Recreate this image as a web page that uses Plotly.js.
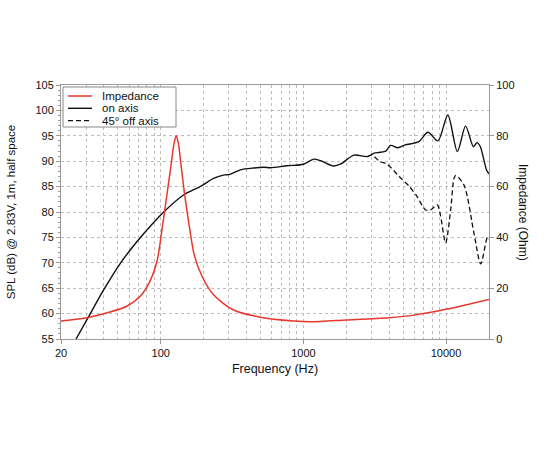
<!DOCTYPE html>
<html>
<head>
<meta charset="utf-8">
<script src="https://cdn.plot.ly/plotly-3.0.1.min.js"></script>
<style>html,body{margin:0;padding:0;background:#fff;}#chart{width:550px;height:450px;}</style>
</head>
<body>
<div id="chart"></div>
<script>
// Impedance (Ohm) vs frequency (Hz)
var impFreq = [20, 31.1, 44.1, 57.8, 71.8, 84.4, 94.5, 102, 110, 118.5, 124, 128.5, 133, 138.5, 147, 159, 172, 195, 234.6, 324, 498, 858, 1120, 2000, 3960, 5940, 10000, 20000];
var impOhm  = [7.1, 8.5, 10.6, 12.9, 16.8, 23, 31, 43, 56, 69, 77, 80, 77, 69, 57, 44, 33, 24.6, 17.4, 11.4, 8.6, 7.1, 6.8, 7.5, 8.4, 9.4, 11.7, 15.6];

// On-axis SPL (dB)
var onFreq = [25.5, 31.1, 39.7, 52.1, 68, 88.9, 110.4, 144.6, 189, 234.6, 280, 306, 362, 526, 588, 768, 1000, 1182, 1320, 1632, 1830, 2260, 2810, 3110, 3440, 3780, 4090, 4600, 5170, 6450, 7460, 8770, 10290, 12000, 13700, 15560, 16500, 17400, 19200, 20000];
var onSpl  = [55, 59.3, 64.6, 69.9, 74.15, 77.9, 80.6, 83.35, 85.0, 86.6, 87.3, 87.4, 88.3, 88.8, 88.7, 89.1, 89.4, 90.4, 90.1, 89.05, 89.45, 91.2, 90.9, 91.55, 91.75, 92.0, 93.1, 92.65, 93.2, 93.85, 95.7, 94.0, 99.1, 91.9, 96.9, 92.85, 93.65, 92.85, 88.3, 87.5];

// 45 deg off-axis SPL (dB)
var offFreq = [2810, 3030, 3440, 3850, 4690, 5500, 6280, 7180, 7780, 8680, 9130, 9930, 10770, 11360, 11700, 13360, 15700, 17500, 19500, 20000];
var offSpl  = [90.9, 91.2, 89.9, 89.45, 87.0, 85.1, 83.0, 80.4, 80.4, 81.4, 79.4, 73.9, 80.4, 86.6, 87.2, 85.3, 75.8, 69.8, 75.0, 74.6];

// Axis ticks
var xTickVals = [20, 100, 1000, 10000];
var xTickText = ["20", "100", "1000", "10000"];
var xMinorVals = [30,40,50,60,70,80,90,200,300,400,500,600,700,800,900,2000,3000,4000,5000,6000,7000,8000,9000];
var splTicks = [55, 60, 65, 70, 75, 80, 85, 90, 95, 100, 105];
var impTicks = [0, 20, 40, 60, 80, 100];

// Legend entries
var legendNames = ['Impedance', 'on axis', '45° off axis'];

var FONT = '"Liberation Sans", Arial, Helvetica, sans-serif';
var AXC = '#9a9a9a';
var GRID = '#bdbdbd';
var RED = '#e8372f';
var BLK = '#111111';
var lineStyles = [
  {color: RED, width: 1.5},
  {color: BLK, width: 1.4},
  {color: BLK, width: 1.3, dash: '5px,3px'}
];

var traces = [
  {x: impFreq, y: impOhm, yaxis: 'y2', type: 'scatter', mode: 'lines', name: legendNames[0],
   line: Object.assign({shape: 'spline', smoothing: 0.8}, lineStyles[0])},
  {x: onFreq, y: onSpl, type: 'scatter', mode: 'lines', name: legendNames[1],
   line: Object.assign({shape: 'spline', smoothing: 0.8}, lineStyles[1])},
  {x: offFreq, y: offSpl, type: 'scatter', mode: 'lines', name: legendNames[2],
   line: Object.assign({shape: 'spline', smoothing: 0.8}, lineStyles[2])}
];

// compact legend drawn as shapes + text (paper coords)
var shapes = [
  {type: 'rect', xref: 'paper', yref: 'paper', x0: 0.0047, x1: 0.2687, y0: 0.8346, y1: 0.9921,
   fillcolor: '#ffffff', line: {color: '#888888', width: 1}, layer: 'above'}
];
var annotations = [];
var rowY = [0.9567, 0.9083, 0.8594];
for (var i = 0; i < legendNames.length; i++) {
  shapes.push({type: 'line', xref: 'paper', yref: 'paper', x0: 0.0164, x1: 0.0724, y0: rowY[i], y1: rowY[i],
               line: lineStyles[i], layer: 'above'});
  annotations.push({text: legendNames[i], xref: 'paper', yref: 'paper', x: 0.0911, y: rowY[i],
                    xanchor: 'left', yanchor: 'middle', showarrow: false,
                    font: {family: FONT, size: 11.5, color: '#111'}});
}
annotations.push({text: 'Impedance (Ohm)', xref: 'paper', yref: 'paper', x: 1.0794, y: 0.496,
                  xanchor: 'center', yanchor: 'middle', textangle: 90, showarrow: false,
                  font: {family: FONT, size: 12, color: '#111'}});

var layout = {
  width: 550, height: 450,
  margin: {l: 61, r: 61, t: 85, b: 111, pad: 0},
  paper_bgcolor: '#fff', plot_bgcolor: '#fff',
  font: {family: FONT, size: 11, color: '#111'},
  showlegend: false,
  xaxis: {type: 'log', range: [Math.log10(20), Math.log10(20000)],
          tickmode: 'array', tickvals: xTickVals, ticktext: xTickText,
          ticks: 'outside', ticklen: 4, tickcolor: AXC,
          showline: true, linecolor: AXC, linewidth: 1, mirror: true,
          showgrid: true, gridcolor: GRID, griddash: 'dot', gridwidth: 1,
          minor: {tickmode: 'array', tickvals: xMinorVals, showgrid: true, gridcolor: GRID, griddash: 'dot', ticks: ''},
          zeroline: false,
          tickfont: {family: FONT, size: 11, color: '#111'},
          title: {text: 'Frequency (Hz)', font: {family: FONT, size: 12.5, color: '#111'}, standoff: 6}},
  yaxis: {range: [55, 105], tickmode: 'array', tickvals: splTicks,
          ticks: 'outside', ticklen: 4, tickcolor: AXC,
          minor: {dtick: 1, ticks: 'outside', ticklen: 2, tickcolor: AXC, showgrid: false},
          showline: true, linecolor: AXC, linewidth: 1,
          showgrid: true, gridcolor: GRID, griddash: 'dot', gridwidth: 1,
          zeroline: false,
          tickfont: {family: FONT, size: 11, color: '#111'},
          title: {text: 'SPL (dB) @ 2.83V, 1m, half space', font: {family: FONT, size: 11.5, color: '#111'}, standoff: 17}},
  yaxis2: {range: [0, 100], overlaying: 'y', side: 'right', tickmode: 'array', tickvals: impTicks,
           ticks: 'outside', ticklen: 4, tickcolor: AXC,
           showline: true, linecolor: AXC, linewidth: 1,
           showgrid: false, zeroline: false,
           tickfont: {family: FONT, size: 11, color: '#111'}},
  shapes: shapes,
  annotations: annotations
};

Plotly.newPlot('chart', traces, layout, {displayModeBar: false, staticPlot: true});
</script>
</body>
</html>
